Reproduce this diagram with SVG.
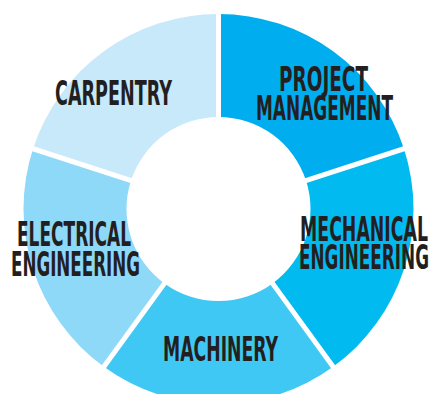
<svg xmlns="http://www.w3.org/2000/svg" width="430" height="394" viewBox="0 0 430 394">
<style>
.lbl{font-family:"Liberation Sans Narrow","DejaVu Sans Condensed","Liberation Sans",sans-serif;font-weight:bold;font-size:33px;fill:#231F20}
.gap{stroke:#FFFFFF;stroke-width:5;fill:none}
</style>
<rect width="430" height="394" fill="#FFFFFF"/>
<g id="project-management">
<path d="M218.5,14 A195,195 0 0 1 403.96,148.74 L306,180.57 A92,92 0 0 0 218.5,117 Z" fill="#00AEEF"/>
<text class="lbl" x="279" y="91" textLength="89" lengthAdjust="spacingAndGlyphs">PROJECT</text>
<text class="lbl" x="256" y="120" textLength="137" lengthAdjust="spacingAndGlyphs">MANAGEMENT</text>
</g>
<g id="mechanical-engineering">
<path d="M403.96,148.74 A195,195 0 0 1 333.12,366.76 L272.58,283.43 A92,92 0 0 0 306,180.57 Z" fill="#00BAF0"/>
<text class="lbl" x="300" y="241" textLength="128" lengthAdjust="spacingAndGlyphs">MECHANICAL</text>
<text class="lbl" x="299" y="269" textLength="130" lengthAdjust="spacingAndGlyphs">ENGINEERING</text>
</g>
<g id="machinery">
<path d="M333.12,366.76 A195,195 0 0 1 103.88,366.76 L164.42,283.43 A92,92 0 0 0 272.58,283.43 Z" fill="#40C8F4"/>
<text class="lbl" x="163" y="361" textLength="115" lengthAdjust="spacingAndGlyphs">MACHINERY</text>
</g>
<g id="electrical-engineering">
<path d="M103.88,366.76 A195,195 0 0 1 33.04,148.74 L131,180.57 A92,92 0 0 0 164.42,283.43 Z" fill="#8ED8F8"/>
<text class="lbl" x="17" y="246" textLength="114" lengthAdjust="spacingAndGlyphs">ELECTRICAL</text>
<text class="lbl" x="11" y="276" textLength="129" lengthAdjust="spacingAndGlyphs">ENGINEERING</text>
</g>
<g id="carpentry">
<path d="M33.04,148.74 A195,195 0 0 1 218.5,14 L218.5,117 A92,92 0 0 0 131,180.57 Z" fill="#C7E9FA"/>
<text class="lbl" x="55" y="105" textLength="117" lengthAdjust="spacingAndGlyphs">CARPENTRY</text>
</g>
<g id="connectors">
<line class="gap" x1="218.5" y1="118" x2="218.5" y2="10"/>
<line class="gap" x1="305" y1="180.9" x2="407.8" y2="147.5"/>
<line class="gap" x1="272" y1="282.6" x2="335.5" y2="370"/>
<line class="gap" x1="165" y1="282.6" x2="101.5" y2="370"/>
<line class="gap" x1="132" y1="180.9" x2="29.2" y2="147.5"/>
</g>
</svg>
